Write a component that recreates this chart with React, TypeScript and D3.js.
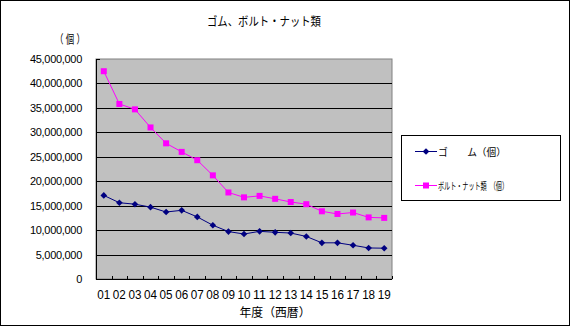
import React, { useEffect, useRef } from "react";
import * as d3 from "d3";

const categories = ["01","02","03","04","05","06","07","08","09","10","11","12","13","14","15","16","17","18","19"];
const gomu = [17100000,15600000,15300000,14700000,13700000,14050000,12700000,11000000,9700000,9200000,9750000,9550000,9400000,8700000,7400000,7400000,6900000,6350000,6300000];
const bolt = [42500000,35800000,34700000,31000000,27750000,26000000,24300000,21200000,17700000,16700000,17000000,16400000,15750000,15300000,13850000,13300000,13600000,12600000,12500000];
const yTicks = [0,5000000,10000000,15000000,20000000,25000000,30000000,35000000,40000000,45000000];
const seriesNames = ["ゴ　　ム（個）", "ボルト・ナット類　（個）"];

const W = 570, H = 326;
const FONT = "'Liberation Sans', Arial, 'Noto Sans CJK JP', sans-serif";

export default function App() {
  const ref = useRef<SVGSVGElement>(null);
  useEffect(() => {
    const svg = d3.select(ref.current);
    svg.selectAll("*").remove();
    const L = 96, R = 392, T = 59, B = 279;
    const x = d3.scaleBand().domain(categories).range([L, R]);
    const y = d3.scaleLinear().domain([0, 45000000]).range([B, T]);

    svg.append("rect").attr("x", 0.5).attr("y", 0.5).attr("width", W - 1).attr("height", H - 1)
      .attr("fill", "white").attr("stroke", "black");

    svg.append("text").attr("x", 264).attr("y", 26).attr("text-anchor", "middle")
      .attr("font-size", 12).attr("font-family", FONT)
      .attr("textLength", 114).attr("lengthAdjust", "spacingAndGlyphs").text("ゴム、ボルト・ナット類");
    svg.append("text").attr("x", 70).attr("y", 44).attr("text-anchor", "middle")
      .attr("font-size", 12).attr("font-family", FONT)
      .attr("textLength", 30).attr("lengthAdjust", "spacingAndGlyphs").text("（ 個 ）");

    svg.append("rect").attr("x", L).attr("y", T).attr("width", R - L).attr("height", B - T)
      .attr("fill", "#C0C0C0").attr("stroke", "#808080");

    // gridlines
    svg.append("g").selectAll("line").data(yTicks.filter(v => v > 0 && v < 45000000)).join("line")
      .attr("x1", L).attr("x2", R).attr("y1", d => Math.round(y(d)) + 0.5).attr("y2", d => Math.round(y(d)) + 0.5)
      .attr("stroke", "black");

    // y axis
    svg.append("line").attr("x1", L + 0.5).attr("x2", L + 0.5).attr("y1", T).attr("y2", B).attr("stroke", "black");
    svg.append("g").selectAll("line").data(yTicks).join("line")
      .attr("x1", L).attr("x2", L + 4).attr("y1", d => Math.round(y(d)) + 0.5).attr("y2", d => Math.round(y(d)) + 0.5)
      .attr("stroke", "black");
    svg.append("g").selectAll("text").data(yTicks).join("text")
      .attr("x", 82).attr("y", d => y(d) + 4).attr("text-anchor", "end")
      .attr("font-size", 11).attr("font-family", FONT).attr("letter-spacing", -0.3)
      .text(d => d3.format(",")(d));

    // x axis
    svg.append("line").attr("x1", L).attr("x2", R).attr("y1", B + 0.5).attr("y2", B + 0.5).attr("stroke", "black");
    const bounds = categories.map(c => x(c)!).concat([R]);
    svg.append("g").selectAll("line").data(bounds).join("line")
      .attr("x1", d => Math.round(d) + 0.5).attr("x2", d => Math.round(d) + 0.5).attr("y1", B - 3).attr("y2", B)
      .attr("stroke", "black");
    svg.append("g").selectAll("text").data(categories).join("text")
      .attr("x", d => x(d)! + x.bandwidth() / 2).attr("y", 299).attr("text-anchor", "middle")
      .attr("font-size", 12).attr("font-family", FONT)
      .attr("textLength", 13).attr("lengthAdjust", "spacingAndGlyphs")
      .text(d => d);
    svg.append("text").attr("x", 275).attr("y", 317).attr("text-anchor", "middle")
      .attr("font-size", 12).attr("font-family", FONT)
      .attr("textLength", 71).attr("lengthAdjust", "spacingAndGlyphs").text("年度（西暦）");

    const cx = (i: number) => x(categories[i])! + x.bandwidth() / 2;
    const line = d3.line<number>().x((_, i) => cx(i)).y(d => y(d));

    // bolt series
    svg.append("path").datum(bolt).attr("d", line).attr("fill", "none").attr("stroke", "#FF00FF").attr("stroke-width", 1);
    svg.append("g").selectAll("rect").data(bolt).join("rect")
      .attr("x", (_, i) => cx(i) - 3).attr("y", d => y(d) - 3).attr("width", 6).attr("height", 6).attr("fill", "#FF00FF");

    // gomu series
    const diamond = d3.symbol().type(d3.symbolDiamond2).size(28);
    svg.append("path").datum(gomu).attr("d", line).attr("fill", "none").attr("stroke", "#000080").attr("stroke-width", 1);
    svg.append("g").selectAll("path").data(gomu).join("path")
      .attr("d", diamond).attr("transform", (d, i) => `translate(${cx(i)},${y(d)})`).attr("fill", "#000080");

    // legend
    svg.append("rect").attr("x", 401.5).attr("y", 135.5).attr("width", 159).attr("height", 65)
      .attr("fill", "white").attr("stroke", "black");
    const ly = [151, 185];
    const colors = ["#000080", "#FF00FF"];
    const lens = [68, 70];
    ly.forEach((yy, i) => {
      svg.append("line").attr("x1", 415).attr("x2", 437).attr("y1", yy + 0.5).attr("y2", yy + 0.5).attr("stroke", colors[i]);
      if (i === 0) {
        svg.append("path").attr("d", diamond).attr("transform", `translate(426,${yy + 0.5})`).attr("fill", colors[i]);
      } else {
        svg.append("rect").attr("x", 423).attr("y", yy - 2.5).attr("width", 6).attr("height", 6).attr("fill", colors[i]);
      }
      svg.append("text").attr("x", 438).attr("y", yy + 4.5).attr("font-size", 10).attr("font-family", FONT)
        .attr("textLength", lens[i]).attr("lengthAdjust", "spacingAndGlyphs")
        .text(seriesNames[i]);
    });
  }, []);
  return (
    <div style={{ position: "fixed", left: 0, top: 0 }}>
      <svg ref={ref} width={W} height={H} style={{ display: "block" }} />
    </div>
  );
}
